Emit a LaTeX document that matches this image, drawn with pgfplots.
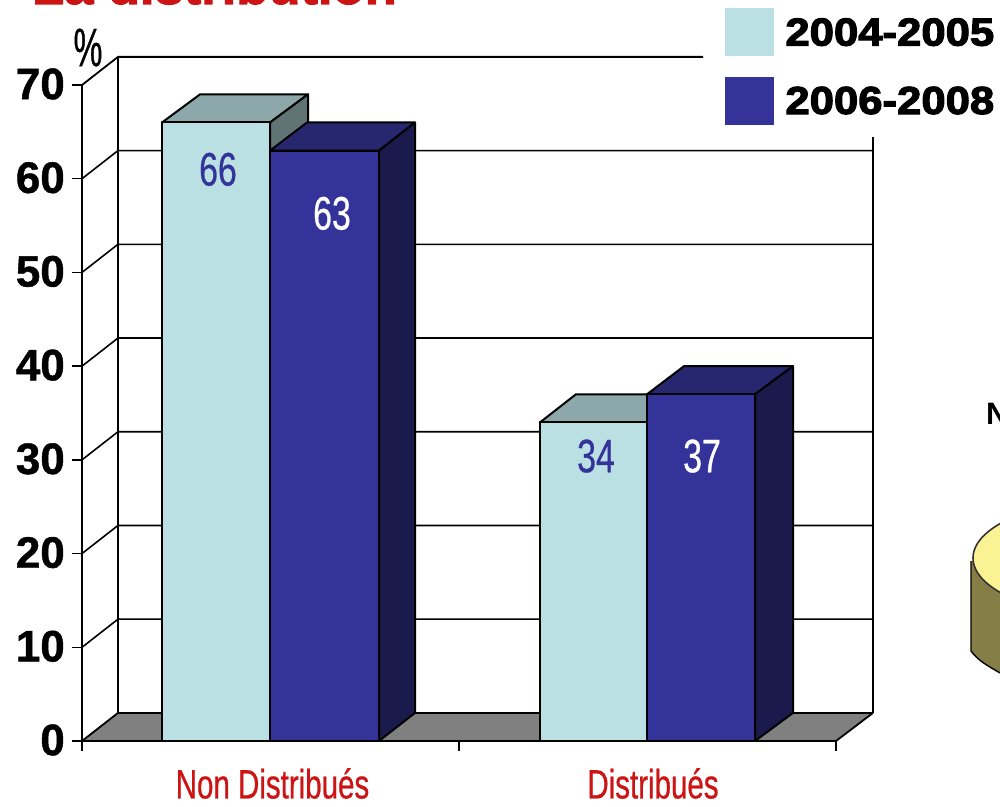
\documentclass[border=0pt]{standalone}
\usepackage{pgfplots}
\pgfplotsset{compat=1.18}
\usepackage{fontspec}
\setmainfont{Liberation Sans}
\newfontfamily\cond[FakeStretch=0.72,FakeBold=0.6]{Liberation Sans}
\newfontfamily\condp[FakeStretch=0.6,FakeBold=0.6]{Liberation Sans}
\newfontfamily\blackf[UprightFont={* Bold},FakeStretch=1.12,FakeBold=3]{Liberation Sans}
\newfontfamily\titlef[UprightFont={* Bold},FakeBold=2]{Liberation Sans}
\newfontfamily\tickf[UprightFont={* Bold},FakeBold=1]{Liberation Sans}
\definecolor{lf}{HTML}{BAE0E3}
\definecolor{lt}{HTML}{8DA8AA}
\definecolor{ls}{HTML}{607476}
\definecolor{df}{HTML}{333399}
\definecolor{dt}{HTML}{272770}
\definecolor{ds}{HTML}{1A1A4D}
\definecolor{redt}{HTML}{CC1414}
\definecolor{pieT}{HTML}{FBF293}
\definecolor{pieS}{HTML}{857F47}
\begin{document}
\begin{tikzpicture}[x=1pt,y=1pt]
\begin{axis}[
  at={(82pt,65pt)}, anchor=south west,
  scale only axis, width=754pt, height=656pt,
  xmin=82, xmax=836, ymin=0, ymax=70,
  clip=false,
  axis x line*=bottom, axis y line*=left,
  axis line style={black,line width=1.6pt,-},
  tick style={black,line width=1.4pt},
  tick align=outside,
  ytick={0,10,20,30,40,50,60,70},
  major tick length=10pt,
  minor tick length=10pt,
  xtick={272.5,653},
  xticklabels={Non Distribués,Distribués},
  minor xtick={82,459,836},
  x tick style={draw=none},
  minor x tick style={draw=black,line width=1.4pt},
  x tick label style={font=\fontsize{41}{41}\cond\color{redt},inner sep=0pt,yshift=-17pt},
  y tick label style={font=\fontsize{44}{44}\tickf,inner sep=0pt,xshift=-7pt,yshift=1pt},
  /pgf/number format/assume math mode=true,
  legend style={at={(axis cs:725,78.2)},anchor=north west,draw=none,fill=none,
    inner sep=0pt,outer sep=0pt,
    font=\fontsize{39}{39}\blackf,
    /tikz/every even column/.append style={column sep=0pt},
    row sep=21pt,
    nodes={inner sep=0pt,outer sep=0pt}},
  legend cell align=left,
]
\addlegendimage{legend image code/.code={\fill[lf] (0,-9pt) rectangle (48pt,38pt); \path (60pt,0);}}
\addlegendentry{\raisebox{0pt}[0pt][0pt]{2004-2005}}
\addlegendimage{legend image code/.code={\fill[df] (0,-9pt) rectangle (48pt,38pt); \path (60pt,0);}}
\addlegendentry{\raisebox{0pt}[0pt][0pt]{2006-2008}}
% gridlines: front axis, depth diagonal, back wall
\addplot[black,line width=1.6pt] coordinates {(82,10)(118,13)(873,13)};
\addplot[black,line width=1.6pt] coordinates {(82,20)(118,23)(873,23)};
\addplot[black,line width=1.6pt] coordinates {(82,30)(118,33)(873,33)};
\addplot[black,line width=1.6pt] coordinates {(82,40)(118,43)(873,43)};
\addplot[black,line width=1.6pt] coordinates {(82,50)(118,53)(873,53)};
\addplot[black,line width=1.6pt] coordinates {(82,60)(118,63)(873,63)};
\addplot[black,line width=1.8pt] coordinates {(82,70)(118,73)(703,73)};
\addplot[black,line width=1.6pt] coordinates {(118,3)(118,73)};
\addplot[black,line width=1.6pt] coordinates {(873,3)(873,64.4)};
% floor
\addplot[fill=gray!100!white,draw=none] coordinates {(82,0)(118,3)(873,3)(836,0)} --cycle;
\addplot[black,line width=2.6pt] coordinates {(118,3)(873,3)};
\addplot[black,line width=1.8pt] coordinates {(82,0)(118,3)};
\addplot[black,line width=1.8pt] coordinates {(836,0)(873,3)};
\addplot[black,line width=2.4pt] coordinates {(82,0)(836,0)};
% Non Distribues 2004-2005 : 66
\addplot[fill=lt,draw=black,line width=2pt,line join=round] coordinates {(162,66)(200,69)(308,69)(270,66)} --cycle;
\addplot[fill=ls,draw=black,line width=2pt,line join=round] coordinates {(270,66)(308,69)(308,3)(270,0)} --cycle;
\addplot[fill=lf,draw=black,line width=2pt,line join=round] coordinates {(162,0)(162,66)(270,66)(270,0)} --cycle;
% Non Distribues 2006-2008 : 63
\addplot[fill=dt,draw=black,line width=2pt,line join=round] coordinates {(270,63)(307,66)(415,66)(379,63)} --cycle;
\addplot[fill=ds,draw=black,line width=2pt,line join=round] coordinates {(379,63)(415,66)(415,3)(379,0)} --cycle;
\addplot[fill=df,draw=black,line width=2pt,line join=round] coordinates {(270,0)(270,63)(379,63)(379,0)} --cycle;
% Distribues 2004-2005 : 34
\addplot[fill=lt,draw=black,line width=2pt,line join=round] coordinates {(540,34)(576,37)(684,37)(647,34)} --cycle;
\addplot[fill=lf,draw=black,line width=2pt,line join=round] coordinates {(540,0)(540,34)(647,34)(647,0)} --cycle;
% Distribues 2006-2008 : 37
\addplot[fill=dt,draw=black,line width=2pt,line join=round] coordinates {(647,37)(684,40)(793,40)(755,37)} --cycle;
\addplot[fill=ds,draw=black,line width=2pt,line join=round] coordinates {(755,37)(793,40)(793,3)(755,0)} --cycle;
\addplot[fill=df,draw=black,line width=2pt,line join=round] coordinates {(647,0)(647,37)(755,37)(755,0)} --cycle;
% value labels
\node[font=\fontsize{47}{47}\cond,text=df] at (axis cs:218,61.0) {66};
\node[font=\fontsize{47}{47}\cond,text=white] at (axis cs:332,56.3) {63};
\node[font=\fontsize{47}{47}\cond,text=df] at (axis cs:596,30.4) {34};
\node[font=\fontsize{47}{47}\cond,text=white] at (axis cs:702,30.4) {37};
\node[font=\fontsize{54}{54}\condp,inner sep=0pt] at (axis cs:88,74) {\%};
\end{axis}
% fragments of the neighbouring slide content
\node[anchor=base west,inner sep=0pt,font=\fontsize{52.5}{52.5}\titlef,text=redt] at (32pt,802pt) {La distribution};
\node[anchor=base west,inner sep=0pt,font=\fontsize{31}{31}\bfseries] at (986pt,381pt) {N};
\fill[pieS] (971pt,245pt) -- (971pt,155pt) .. controls (978pt,145pt) and (990pt,139pt) .. (1000pt,133pt) -- (1000pt,245pt) -- cycle;
\draw[black,line width=1.4pt] (1000pt,133pt) .. controls (990pt,139pt) and (978pt,145pt) .. (971pt,155pt) -- (971pt,245pt);
\filldraw[fill=pieT,draw=black!80,line width=1.6pt] (1123pt,248pt) ellipse [x radius=150pt,y radius=60pt];
\pgfresetboundingbox
\useasboundingbox (0pt,0pt) rectangle (1000pt,806pt);
\end{tikzpicture}
\end{document}
